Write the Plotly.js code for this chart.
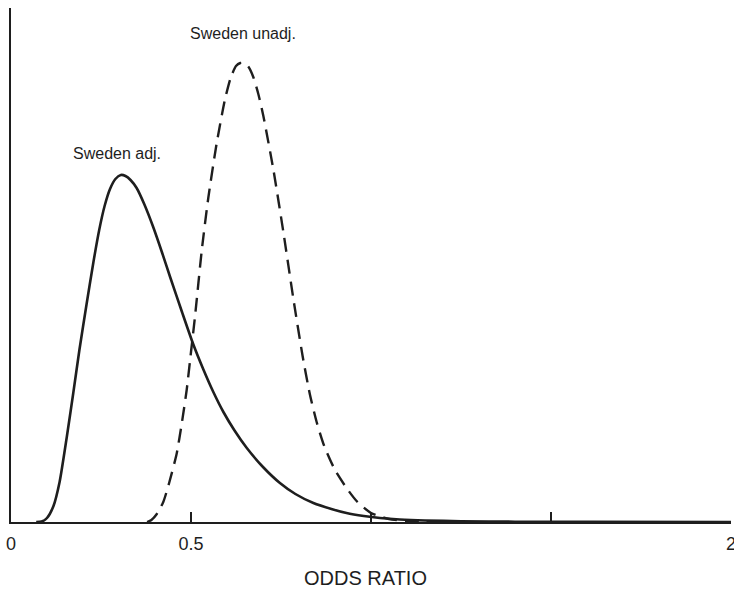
<!DOCTYPE html>
<html>
<head>
<meta charset="utf-8">
<script src="https://cdn.plot.ly/plotly-3.0.1.min.js"></script>
<style>html,body{margin:0;padding:0;background:#fff;}#chart{width:734px;height:594px;}</style>
</head>
<body>
<div id="chart"></div>
<script>
// Sweden adj. (solid) — odds ratio vs relative likelihood
const adjX = [0.07, 0.085, 0.10, 0.118, 0.135, 0.155, 0.173, 0.19, 0.21, 0.229, 0.245, 0.26, 0.275, 0.29, 0.305, 0.318, 0.332, 0.349, 0.37, 0.395, 0.42, 0.442, 0.475, 0.506, 0.535, 0.562, 0.59, 0.62, 0.655, 0.70, 0.747, 0.79, 0.84, 0.89, 0.932, 0.98, 1.025, 1.08, 1.15, 1.25, 1.4, 1.6, 2.0];
const adjY = [0, 0.004, 0.04, 0.16, 0.40, 0.85, 1.29, 1.72, 2.18, 2.60, 2.92, 3.16, 3.33, 3.43, 3.47, 3.46, 3.42, 3.34, 3.18, 2.95, 2.69, 2.45, 2.10, 1.78, 1.52, 1.30, 1.10, 0.92, 0.74, 0.55, 0.39, 0.28, 0.19, 0.13, 0.09, 0.06, 0.04, 0.025, 0.015, 0.008, 0.003, 0.001, 0];
// Sweden unadj. (dashed)
const unadjX = [0.378, 0.39, 0.405, 0.423, 0.44, 0.46, 0.475, 0.488, 0.50, 0.511, 0.53, 0.548, 0.571, 0.594, 0.61, 0.625, 0.637, 0.648, 0.66, 0.673, 0.687, 0.701, 0.729, 0.757, 0.784, 0.81, 0.83, 0.849, 0.87, 0.90, 0.932, 0.96, 1.0, 1.05, 1.1, 1.2];
const unadjY = [0, 0.02, 0.08, 0.20, 0.40, 0.68, 1.00, 1.32, 1.70, 2.05, 2.72, 3.24, 3.78, 4.22, 4.44, 4.56, 4.59, 4.59, 4.55, 4.45, 4.28, 4.06, 3.52, 2.89, 2.24, 1.66, 1.28, 1.00, 0.76, 0.52, 0.34, 0.21, 0.09, 0.03, 0.01, 0];

const tickVals = [0, 0.5, 1, 1.5, 2];
const tickText = ['0', '0.5', '', '', '2'];
const labelNames = ['Sweden adj.', 'Sweden unadj.'];
const labelX = [0.294, 0.644];
const labelY = [3.69, 4.89];
const xTitle = 'ODDS RATIO';

const ink = '#1e1e1e';
const font = 'Liberation Sans, Arial, Helvetica, sans-serif';

const traces = [
  {x: adjX, y: adjY, mode: 'lines', line: {color: ink, width: 2.6, shape: 'spline', smoothing: 0.6}, hoverinfo: 'none'},
  {x: unadjX, y: unadjY, mode: 'lines', line: {color: ink, width: 2.4, dash: '14px,8px', shape: 'spline', smoothing: 0.6}, hoverinfo: 'none'}
];

const annotations = labelNames.map((t, i) => ({
  x: labelX[i], y: labelY[i], xref: 'x', yref: 'y', text: t, showarrow: false,
  font: {family: font, size: 16, color: ink}, xanchor: 'center', yanchor: 'middle'
}));
annotations.push({x: 0.493, y: -0.109, xref: 'paper', yref: 'paper', text: xTitle, showarrow: false,
  font: {family: font, size: 20, color: ink}, xanchor: 'center', yanchor: 'middle'});

const layout = {
  width: 734, height: 594,
  margin: {l: 11, r: 3, t: 8, b: 72, pad: 0},
  paper_bgcolor: '#fff', plot_bgcolor: '#fff',
  showlegend: false,
  xaxis: {range: [0, 2], tickvals: tickVals, ticktext: tickText, ticks: 'inside', ticklen: 10, tickwidth: 1.5, tickcolor: ink,
    showline: true, linecolor: ink, linewidth: 2, showgrid: false, zeroline: false, ticklabeloverflow: 'allow',
    ticklabelstandoff: 4,
    tickfont: {family: font, size: 18, color: ink}, fixedrange: true},
  yaxis: {range: [0, 5.14], showline: true, linecolor: ink, linewidth: 2, showgrid: false, zeroline: false,
    ticks: '', showticklabels: false, fixedrange: true},
  annotations: annotations
};

Plotly.newPlot('chart', traces, layout, {displayModeBar: false, staticPlot: true});
</script>
</body>
</html>
